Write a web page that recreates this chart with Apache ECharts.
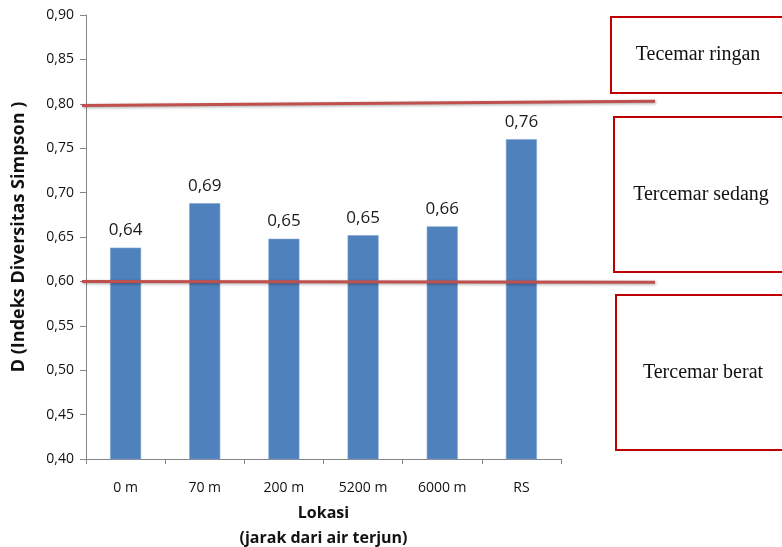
<!DOCTYPE html>
<html>
<head>
<meta charset="utf-8">
<script src="https://cdn.jsdelivr.net/npm/echarts@6/dist/echarts.min.js"></script>
<style>
  html, body { margin: 0; padding: 0; background: #fff; }
  #chart { width: 782px; height: 547px; }
</style>
</head>
<body>
<div id="chart"></div>
<script>
// Lokasi pengambilan sampel (jarak dari air terjun)
const categories = ['0 m', '70 m', '200 m', '5200 m', '6000 m', 'RS'];
// Indeks Diversitas Simpson (D) per lokasi
const diversity = [0.638, 0.688, 0.648, 0.652, 0.662, 0.760];
// Batas kelas pencemaran (nilai D di ujung kiri dan kanan garis)
const boundaries = [
  { from: 0.600, to: 0.599 },
  { from: 0.798, to: 0.803 }
];
// Kelas pencemaran
const classes = ['Tecemar ringan', 'Tercemar sedang', 'Tercemar berat'];

const chart = echarts.init(document.getElementById('chart'));
const fmt = v => v.toFixed(2).replace('.', ',');

chart.setOption({
  animation: false,
  grid: { left: 86, right: 221, top: 15, bottom: 88, containLabel: false, outerBoundsMode: 'none' },
  xAxis: {
    type: 'category',
    data: categories,
    axisLine: { lineStyle: { color: '#868686', width: 1 } },
    axisTick: { show: true, length: 5, lineStyle: { color: '#868686' } },
    axisLabel: { color: '#111', fontFamily: 'Open Sans', fontSize: 14, margin: 22 },
    name: 'Lokasi\n(jarak dari air terjun)',
    nameLocation: 'middle',
    nameGap: 42,
    nameTextStyle: { fontFamily: 'Open Sans', fontWeight: 'bold', fontSize: 16, color: '#111', lineHeight: 25, verticalAlign: 'top' }
  },
  yAxis: {
    type: 'value',
    min: 0.40,
    max: 0.90,
    interval: 0.05,
    splitLine: { show: false },
    axisLine: { show: true, lineStyle: { color: '#868686' } },
    axisTick: { show: true, length: 6, inside: false, lineStyle: { color: '#868686' } },
    axisLabel: { color: '#111', fontFamily: 'Open Sans', fontSize: 14, margin: 12, formatter: v => fmt(v) },
    name: 'D (Indeks Diversitas Simpson )',
    nameLocation: 'middle',
    nameGap: 58,
    nameTextStyle: { fontFamily: 'Open Sans', fontWeight: 'bold', fontSize: 18, color: '#111' }
  },
  series: [{
    type: 'bar',
    data: diversity,
    barWidth: 31,
    itemStyle: { color: '#4f81bd', borderColor: '#7fa3d0', borderWidth: 0.6 },
    label: {
      show: true,
      position: 'top',
      distance: 9,
      fontFamily: 'Open Sans',
      fontSize: 17,
      color: '#1a1a1a',
      formatter: p => fmt(p.value)
    }
  }]
});

// Garis batas kelas dan kotak keterangan di sisi kanan
const lineLeft = 82, lineRight = 655;
const graphics = boundaries.map(b => ({
  type: 'line',
  z: 10,
  shape: {
    x1: lineLeft, y1: chart.convertToPixel({ yAxisIndex: 0 }, b.from),
    x2: lineRight, y2: chart.convertToPixel({ yAxisIndex: 0 }, b.to)
  },
  style: {
    stroke: '#c0504d', lineWidth: 3,
    shadowBlur: 3, shadowColor: 'rgba(0,0,0,0.35)', shadowOffsetX: 1, shadowOffsetY: 1
  }
}));

const boxes = [
  { x: 611, y: 17, h: 76 },
  { x: 614, y: 117, h: 155 },
  { x: 616, y: 295, h: 155 }
];
boxes.forEach((bx, i) => {
  graphics.push({
    type: 'rect',
    z: 10,
    shape: { x: bx.x, y: bx.y, width: 200, height: bx.h },
    style: { fill: '#fff', stroke: '#c00000', lineWidth: 2 }
  });
  graphics.push({
    type: 'text',
    z: 11,
    x: bx.x + 87,
    y: bx.y + bx.h / 2,
    style: {
      text: classes[i],
      fontFamily: 'Liberation Serif',
      fontSize: 20,
      fill: '#111',
      align: 'center',
      verticalAlign: 'middle'
    }
  });
});

chart.setOption({ graphic: graphics });
</script>
</body>
</html>
